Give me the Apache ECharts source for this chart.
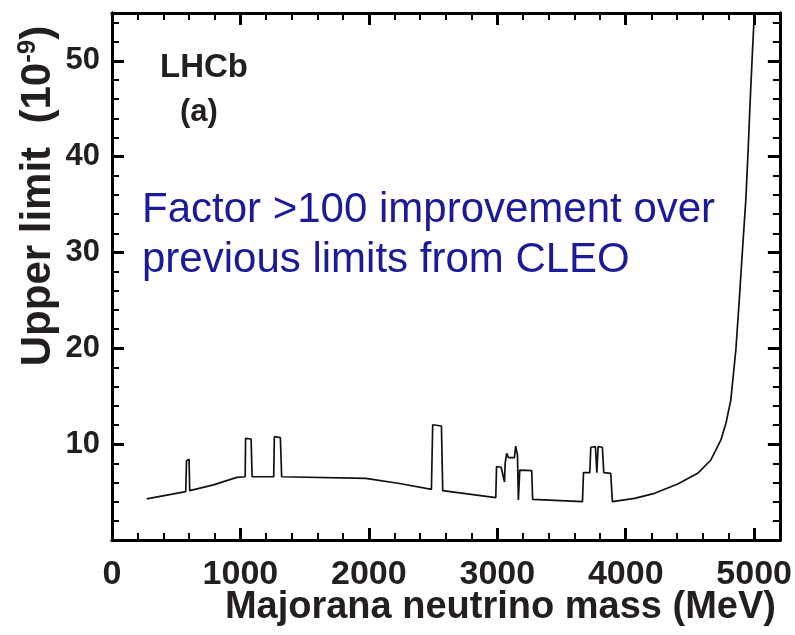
<!DOCTYPE html>
<html>
<head>
<meta charset="utf-8">
<script src="https://cdn.jsdelivr.net/npm/echarts@6/dist/echarts.min.js"></script>
<style>html,body{margin:0;padding:0;background:#fff}#c{width:795px;height:635px}</style>
</head>
<body>
<div id="c"></div>
<script>
// Majorana neutrino mass (MeV)
var massMeV = [270, 574, 580, 600, 605, 790, 972, 1037, 1040, 1083, 1091, 1259, 1264, 1311, 1321,
  1975, 2240, 2487, 2497, 2565, 2575, 2988, 2994, 3030, 3056, 3061, 3073, 3087, 3133, 3143, 3157,
  3164, 3175, 3268, 3275, 3663, 3671, 3720, 3728, 3764, 3775, 3785, 3818, 3829, 3883, 3896,
  4069, 4224, 4405, 4560, 4663, 4741, 4780, 4818, 4857, 4884, 4909, 4935, 4953, 4969, 4987, 5000];
// Upper limit (10^-9)
var upperLimit = [4.3, 5.04, 8.25, 8.42, 5.15, 5.75, 6.54, 6.6, 10.6, 10.54, 6.6, 6.6, 10.78, 10.68, 6.6,
  6.44, 5.9, 5.29, 12.03, 11.9, 5.15, 4.42, 7.65, 7.59, 6.05, 8.0, 9.05, 8.6, 8.6, 9.8, 8.87,
  4.18, 7.3, 7.23, 4.25, 4.0, 7.03, 7.03, 9.68, 9.74, 7.03, 9.74, 9.68, 7.03, 6.96, 4.0,
  4.35, 4.87, 5.85, 6.96, 8.35, 10.44, 12.18, 14.6, 19.8, 25.05, 30.3, 35.5, 40.7, 45.9, 51.1, 54.6];
var xTickLabels = ['0', '1000', '2000', '3000', '4000', '5000'];
var yTickLabels = ['10', '20', '30', '40', '50'];

var xMin = 0, xMax = 5200, yMin = 0, yMax = 55;
var FONT = '"Liberation Sans", Arial, Helvetica, sans-serif';

function fmtX(v) { var s = String(Math.round(v)); return xTickLabels.indexOf(s) >= 0 ? s : ''; }
function fmtY(v) { var s = String(Math.round(v)); return (yTickLabels.indexOf(s) >= 0 && Math.abs(v - Math.round(v)) < 1e-9) ? s : ''; }

function xAx(pos, interval, major, labels) {
  return {
    type: 'value', position: pos, min: xMin, max: xMax, interval: interval,
    axisLine: { show: true, onZero: false, lineStyle: { color: '#000', width: 3 } },
    axisTick: { show: true, inside: true, length: major ? 12 : 7, lineStyle: { color: '#000', width: major ? 3 : 2 } },
    axisLabel: labels ? { show: true, formatter: fmtX, color: '#231f20', fontSize: 34, fontWeight: 'bold', fontFamily: FONT, margin: 18, showMaxLabel: false } : { show: false },
    splitLine: { show: false }
  };
}
function yAx(pos, interval, major, labels) {
  return {
    type: 'value', position: pos, min: yMin, max: yMax, interval: interval,
    axisLine: { show: true, onZero: false, lineStyle: { color: '#000', width: 3 } },
    axisTick: { show: true, inside: true, length: major ? 12 : 7, lineStyle: { color: '#000', width: major ? 3 : 2 } },
    axisLabel: labels ? { show: true, formatter: fmtY, color: '#231f20', fontSize: 31, fontWeight: 'bold', fontFamily: FONT, margin: 12, showMaxLabel: false, showMinLabel: false } : { show: false },
    splitLine: { show: false }
  };
}

var chart = echarts.init(document.getElementById('c'), null, { renderer: 'canvas' });
chart.setOption({
  animation: false,
  backgroundColor: '#fff',
  grid: { left: 112, right: 14, top: 13, bottom: 95, containLabel: false },
  xAxis: [xAx('bottom', 1000, true, true), xAx('bottom', 200, false, false), xAx('top', 1000, true, false), xAx('top', 200, false, false)],
  yAxis: [yAx('left', 10, true, true), yAx('left', 2, false, false), yAx('right', 10, true, false), yAx('right', 2, false, false)],
  series: [{
    type: 'line', xAxisIndex: 0, yAxisIndex: 0,
    data: massMeV.map(function (m, i) { return [m, upperLimit[i]]; }),
    showSymbol: false, symbol: 'none', clip: true,
    lineStyle: { color: '#111', width: 1.7 }
  }],
  graphic: [
    { type: 'text', left: 160, top: 51, style: { text: 'LHCb', fontSize: 33, fontWeight: 'bold', fontFamily: FONT, fill: '#231f20' } },
    { type: 'text', left: 180, top: 97, style: { text: '(a)', fontSize: 31, fontWeight: 'bold', fontFamily: FONT, fill: '#231f20' } },
    { type: 'text', left: 142, top: 189, style: { text: 'Factor >100 improvement over', fontSize: 42, fontFamily: FONT, fill: '#1a1a9a' } },
    { type: 'text', left: 142, top: 239, style: { text: 'previous limits from CLEO', fontSize: 42, fontFamily: FONT, fill: '#1a1a9a' } },
    { type: 'text', x: 776, y: 608, style: { text: 'Majorana neutrino mass (MeV)', fontSize: 38, fontWeight: 'bold', fontFamily: FONT, fill: '#231f20', textAlign: 'right', textVerticalAlign: 'middle' } },
    { type: 'text', x: 38, y: 196, rotation: Math.PI / 2,
      style: { text: 'Upper limit  (10{sup|-9})', fontSize: 42, fontWeight: 'bold', fontFamily: FONT, fill: '#231f20', textAlign: 'center', textVerticalAlign: 'middle',
        rich: { sup: { fontSize: 26, fontWeight: 'bold', fontFamily: FONT, fill: '#231f20', verticalAlign: 'top', lineHeight: 46 } } } }
  ]
});
</script>
</body>
</html>
